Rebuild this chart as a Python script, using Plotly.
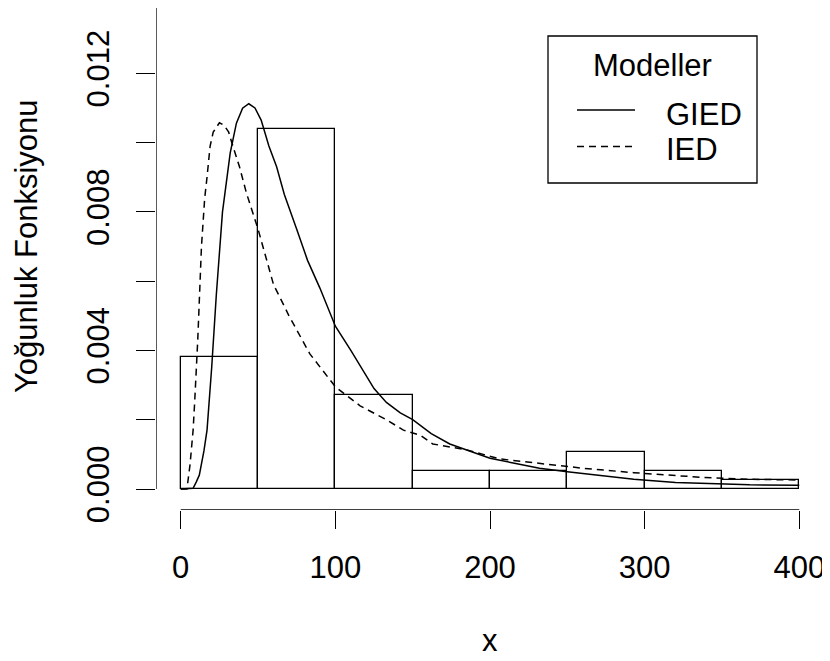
import plotly.graph_objects as go

# ---------------- data ----------------
bin_edges = [0, 50, 100, 150, 200, 250, 300, 350, 400]
bin_density = [0.0038, 0.0104, 0.0027, 0.00052, 0.00052, 0.00108, 0.00052, 0.00026]

gied_x = [0, 5, 8, 10, 12, 15, 17, 20, 23, 27, 32, 36, 40, 44, 48, 52, 57, 62, 67, 75, 82,
          90, 100, 110, 118, 125, 133, 142, 150, 162, 174, 187, 200, 215, 232, 250, 275,
          293, 320, 349, 368, 400]
gied_y = [0, 0, 0.00002, 0.0002, 0.0004, 0.0011, 0.0017, 0.0035, 0.0056, 0.0080, 0.0097,
          0.01056, 0.01099, 0.01112, 0.01100, 0.01065, 0.0099, 0.0093, 0.0085, 0.0075,
          0.0066, 0.0058, 0.0047, 0.0040, 0.0034, 0.0029, 0.0025, 0.0022, 0.0020, 0.0016,
          0.0013, 0.0011, 0.00089, 0.00075, 0.0006, 0.0005, 0.00036, 0.00028, 0.00019,
          0.00016, 0.00012, 0.00011]

ied_x = [0, 4, 6, 8, 9, 11, 13.4, 15.5, 17, 19, 21, 25, 28, 31, 33, 36, 38, 42.5, 50, 60,
         70, 83.5, 100, 116, 133, 144, 155, 163, 185, 206, 232, 260, 293, 336, 368, 400]
ied_y = [0, 0, 0.0007, 0.0017, 0.0025, 0.0043, 0.0070, 0.0084, 0.0090, 0.0099, 0.0103,
         0.01057, 0.0105, 0.0103, 0.0100, 0.0096, 0.0093, 0.00854, 0.0075, 0.0059, 0.0050,
         0.0039, 0.00295, 0.0024, 0.0020, 0.0017, 0.00155, 0.0013, 0.00113, 0.00087,
         0.00074, 0.0006, 0.00047, 0.00034, 0.00028, 0.00026]

x_ticks = [0, 100, 200, 300, 400]
y_ticks = [0, 0.002, 0.004, 0.006, 0.008, 0.010, 0.012, 0.014]
y_ticklabels = ["0.000", "", "0.004", "", "0.008", "", "0.012", ""]

series_names = ["GIED", "IED"]
legend_title = "Modeller"
x_title = "x"
y_title = "Yoğunluk Fonksiyonu"

# ---------------- figure ----------------
FONT = "Liberation Sans, Arial, Helvetica, sans-serif"
FS = 31
X_RANGE = [-16, 416]
Y_RANGE = [-0.000606, 0.013884]

# the HTML body has an 8px margin, so the figure is made smaller and
# all page positions are shifted by OFF
OFF = 8
W, H = 830 - OFF, 661 - OFF
ML, MR, MT, MB = 156 - OFF, 6, 0, 151
PW, PH = W - ML - MR, H - MT - MB

mids = [(a + b) / 2 for a, b in zip(bin_edges[:-1], bin_edges[1:])]
widths = [b - a for a, b in zip(bin_edges[:-1], bin_edges[1:])]

fig = go.Figure()
fig.add_trace(go.Bar(x=mids, y=bin_density, width=widths,
                     marker=dict(color="rgba(0,0,0,0)", line=dict(color="black", width=1.3)),
                     showlegend=False, hoverinfo="skip"))
fig.add_trace(go.Scatter(x=gied_x, y=gied_y, mode="lines", name=series_names[0],
                         line=dict(color="black", width=1.5), showlegend=False))
fig.add_trace(go.Scatter(x=ied_x, y=ied_y, mode="lines", name=series_names[1],
                         line=dict(color="black", width=1.5, dash="7px,5px"), showlegend=False))

# R-style axis lines spanning first to last tick
fig.add_trace(go.Scatter(x=[x_ticks[0], x_ticks[-1]], y=[Y_RANGE[0], Y_RANGE[0]], mode="lines",
                         line=dict(color="black", width=1.3), cliponaxis=False,
                         showlegend=False, hoverinfo="skip"))
fig.add_trace(go.Scatter(x=[X_RANGE[0], X_RANGE[0]], y=[y_ticks[0], y_ticks[-1]], mode="lines",
                         line=dict(color="black", width=1.3), cliponaxis=False,
                         showlegend=False, hoverinfo="skip"))


def px(xp):  # page pixel -> paper x
    return (xp - OFF - ML) / PW


def py(yp):  # page pixel -> paper y
    return (H - MB - (yp - OFF)) / PH


# legend (manual, R style)
shapes = [
    dict(type="rect", xref="paper", yref="paper", x0=px(548), x1=px(757), y0=py(183), y1=py(36),
         line=dict(color="black", width=1.3), fillcolor="white", layer="above"),
    dict(type="line", xref="paper", yref="paper", x0=px(577), x1=px(635), y0=py(110), y1=py(110),
         line=dict(color="black", width=1.5)),
    dict(type="line", xref="paper", yref="paper", x0=px(577), x1=px(635), y0=py(146.5), y1=py(146.5),
         line=dict(color="black", width=1.5, dash="7px,5px")),
]
annotations = [
    dict(text=legend_title, xref="paper", yref="paper", x=px(652), y=py(65), xanchor="center",
         yanchor="middle", showarrow=False, font=dict(family=FONT, size=FS, color="black")),
    dict(text=series_names[0], xref="paper", yref="paper", x=px(664), y=py(114), xanchor="left",
         yanchor="middle", showarrow=False, font=dict(family=FONT, size=FS, color="black")),
    dict(text=series_names[1], xref="paper", yref="paper", x=px(664), y=py(150), xanchor="left",
         yanchor="middle", showarrow=False, font=dict(family=FONT, size=FS, color="black")),
    dict(text=x_title, xref="paper", yref="paper", x=0.5, y=py(640), xanchor="center",
         yanchor="middle", showarrow=False, font=dict(family=FONT, size=FS, color="black")),
    dict(text=y_title, xref="paper", yref="paper", x=px(26), y=py(246), xanchor="center",
         yanchor="middle", textangle=-90, showarrow=False,
         font=dict(family=FONT, size=FS, color="black")),
]

fig.update_layout(
    width=W, height=H,
    margin=dict(l=ML, r=MR, t=MT, b=MB, pad=0),
    paper_bgcolor="white", plot_bgcolor="white",
    showlegend=False, bargap=0,
    shapes=shapes, annotations=annotations,
    font=dict(family=FONT, size=FS, color="black"),
)
fig.update_xaxes(range=X_RANGE, tickmode="array", tickvals=x_ticks,
                 ticktext=[str(v) for v in x_ticks],
                 ticks="outside", ticklen=18, tickwidth=1.3, tickcolor="black",
                 ticklabelstandoff=12,
                 showgrid=False, zeroline=False, showline=False,
                 tickfont=dict(family=FONT, size=FS, color="black"))
fig.update_yaxes(range=Y_RANGE, tickmode="array", tickvals=y_ticks, ticktext=y_ticklabels,
                 tickangle=-90,
                 ticks="outside", ticklen=19, tickwidth=1.3, tickcolor="black",
                 ticklabelstandoff=15,
                 showgrid=False, zeroline=False, showline=False,
                 tickfont=dict(family=FONT, size=FS, color="black"))

fig.write_html("out.html")
